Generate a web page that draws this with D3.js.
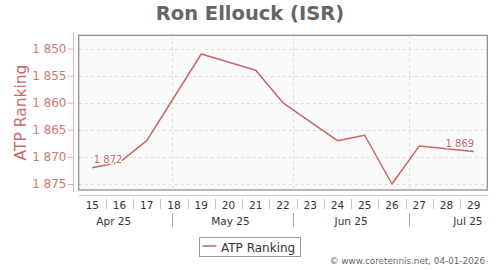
<!DOCTYPE html>
<html>
<head>
<meta charset="UTF-8">
<script src="https://d3js.org/d3.v7.min.js"></script>
<style type="text/css">
    body {
        margin: 0;
        background: #fff;
        font-family: "DejaVu Sans", sans-serif;
    }
    svg {
        display: block;
    }
</style>
</head>
<body>
<script type="text/javascript">
// Weeks shown on the x axis (ISO weeks of 2025) and their Monday
const weeks = [15, 16, 17, 18, 19, 20, 21, 22, 23, 24, 25, 26, 27, 28, 29];
const firstMonday = new Date(Date.UTC(2025, 3, 7));
const lastSunday = new Date(Date.UTC(2025, 6, 21));

// ATP ranking per week (null = no value that week)
const ranks = [1872, 1871, 1867, null, 1851, null, 1854, 1860, null, 1867, 1866, 1875, 1868, null, 1869];

// Y ticks
const yTicks = [1850, 1855, 1860, 1865, 1870, 1875];

// Month labels (at mid month) and separators (month starts)
const monthLabels = ["Apr 25", "May 25", "Jun 25", "Jul 25"];
const monthMid = [new Date(Date.UTC(2025, 3, 16)), new Date(Date.UTC(2025, 4, 16)),
                  new Date(Date.UTC(2025, 5, 16)), new Date(Date.UTC(2025, 6, 16))];
const monthStarts = [new Date(Date.UTC(2025, 4, 1)), new Date(Date.UTC(2025, 5, 1)),
                     new Date(Date.UTC(2025, 6, 1))];

const W = 500, H = 270;
const plot = { left: 78.7, right: 487.3, top: 35.3, bottom: 190 };
const lineColor = '#c96565';

const fmt = d3.formatLocale({ decimal: '.', thousands: ' ', grouping: [3], currency: ['', ''] }).format(',d');

const svg = d3.select('body').append('svg')
    .attr('width', W)
    .attr('height', H);

// Scales
const x = d3.scaleBand().domain(weeks).range([plot.left, plot.right]);
const t = d3.scaleUtc().domain([firstMonday, lastSunday]).range([plot.left, plot.right]);
const y = d3.scaleLinear().domain([1850, 1875]).range([48.6, 184]);

// Title
svg.append('text')
    .attr('x', W / 2)
    .attr('y', 20)
    .attr('text-anchor', 'middle')
    .style('font-size', '19.5px')
    .style('font-weight', 'bold')
    .style('fill', '#666')
    .text('Ron Ellouck (ISR)');

// Plot background
svg.append('rect')
    .attr('x', plot.left)
    .attr('y', plot.top)
    .attr('width', plot.right - plot.left)
    .attr('height', plot.bottom - plot.top)
    .attr('fill', '#fafafa');

// Grid lines
svg.append('g').selectAll('line')
    .data(yTicks)
    .join('line')
    .attr('x1', plot.left)
    .attr('x2', plot.right)
    .attr('y1', d => Math.round(y(d)) + 0.5)
    .attr('y2', d => Math.round(y(d)) + 0.5)
    .attr('stroke', '#dcdcdc')
    .attr('stroke-dasharray', '3,3');

svg.append('g').selectAll('line')
    .data(monthStarts)
    .join('line')
    .attr('x1', d => Math.round(t(d)) + 0.5)
    .attr('x2', d => Math.round(t(d)) + 0.5)
    .attr('y1', plot.top)
    .attr('y2', plot.bottom)
    .attr('stroke', '#dcdcdc')
    .attr('stroke-dasharray', '3,3');

// Y axis
const yAxis = d3.axisLeft(y).tickValues(yTicks).tickSize(6).tickFormat(fmt);
const yg = svg.append('g')
    .attr('transform', 'translate(73.5,0)')
    .call(yAxis);
yg.select('.domain').remove();
yg.append('line')
    .attr('y1', plot.top - 3)
    .attr('y2', plot.bottom + 2)
    .attr('stroke', '#e3b6b6');
yg.selectAll('.tick line').attr('stroke', '#e3b6b6');
yg.selectAll('.tick text')
    .attr('x', -7)
    .style('font-family', '"DejaVu Sans", sans-serif')
    .style('font-size', '12px')
    .style('fill', '#d07878');

svg.append('text')
    .attr('transform', 'translate(26,112.5) rotate(-90)')
    .attr('text-anchor', 'middle')
    .style('font-size', '15.5px')
    .style('fill', '#cc6a6a')
    .text('ATP Ranking');

// X axis: week labels
const xAxis = d3.axisBottom(x).tickSize(0).tickPadding(0);
const xg = svg.append('g')
    .attr('transform', 'translate(0,195)')
    .call(xAxis);
xg.select('.domain').remove();
xg.append('line')
    .attr('x1', plot.left)
    .attr('x2', plot.right + 1)
    .attr('y1', 0.5)
    .attr('y2', 0.5)
    .attr('stroke', '#ccc');
xg.selectAll('.tick text')
    .attr('y', 13.5)
    .attr('dy', null)
    .style('font-family', '"DejaVu Sans", sans-serif')
    .style('font-size', '10.5px')
    .style('fill', '#333');

// separators between week labels
svg.append('g').selectAll('line')
    .data(weeks.slice(1))
    .join('line')
    .attr('x1', d => Math.round(x(d)) + 0.5)
    .attr('x2', d => Math.round(x(d)) + 0.5)
    .attr('y1', 199)
    .attr('y2', 209)
    .attr('stroke', '#c8c8c8');

// Month labels
svg.append('g').selectAll('text')
    .data(monthLabels)
    .join('text')
    .attr('x', (d, i) => t(monthMid[i]))
    .attr('y', 224.5)
    .attr('text-anchor', 'middle')
    .style('font-size', '10.5px')
    .style('fill', '#333')
    .text(d => d);

svg.append('g').selectAll('line')
    .data(monthStarts)
    .join('line')
    .attr('x1', d => Math.round(t(d)) + 0.5)
    .attr('x2', d => Math.round(t(d)) + 0.5)
    .attr('y1', 213)
    .attr('y2', 227)
    .attr('stroke', '#aaa');

// Plot border
svg.append('rect')
    .attr('x', plot.left)
    .attr('y', plot.top)
    .attr('width', plot.right - plot.left)
    .attr('height', plot.bottom - plot.top)
    .attr('fill', 'none')
    .attr('stroke', '#888')
    .attr('stroke-width', 1.2);

// Ranking line
const points = weeks.map((w, i) => ({ week: w, rank: ranks[i] })).filter(d => d.rank != null);
const line = d3.line()
    .x(d => x(d.week) + x.bandwidth() / 2)
    .y(d => y(d.rank));

svg.append('path')
    .datum(points)
    .attr('d', line)
    .attr('fill', 'none')
    .attr('stroke', lineColor)
    .attr('stroke-width', 1.5)
    .attr('stroke-linejoin', 'round');

// Data labels on first and last point
const first = points[0], last = points[points.length - 1];
[[first, 'start', 1.5], [last, 'end', 0.5]].forEach(([d, anchor, dx]) => {
    svg.append('text')
        .attr('x', x(d.week) + x.bandwidth() / 2 + dx)
        .attr('y', y(d.rank) - 5)
        .attr('text-anchor', anchor)
        .style('font-size', '10px')
        .style('fill', lineColor)
        .style('stroke', '#fff')
        .style('stroke-width', 2.5)
        .style('paint-order', 'stroke')
        .text(fmt(d.rank));
});

// Legend
const lg = svg.append('g').attr('transform', 'translate(199.5,237.5)');
lg.append('rect')
    .attr('width', 101)
    .attr('height', 19)
    .attr('fill', '#fff')
    .attr('stroke', '#999');
lg.append('line')
    .attr('x1', 3)
    .attr('x2', 17)
    .attr('y1', 8.5)
    .attr('y2', 8.5)
    .attr('stroke', lineColor)
    .attr('stroke-width', 1.5);
lg.append('text')
    .attr('x', 21.5)
    .attr('y', 14)
    .style('font-size', '12px')
    .style('fill', '#333')
    .text('ATP Ranking');

// Credit
svg.append('text')
    .attr('x', 485)
    .attr('y', 264)
    .attr('text-anchor', 'end')
    .style('font-size', '8.8px')
    .style('fill', '#666')
    .text('© www.coretennis.net, 04-01-2026');
</script>
</body>
</html>
